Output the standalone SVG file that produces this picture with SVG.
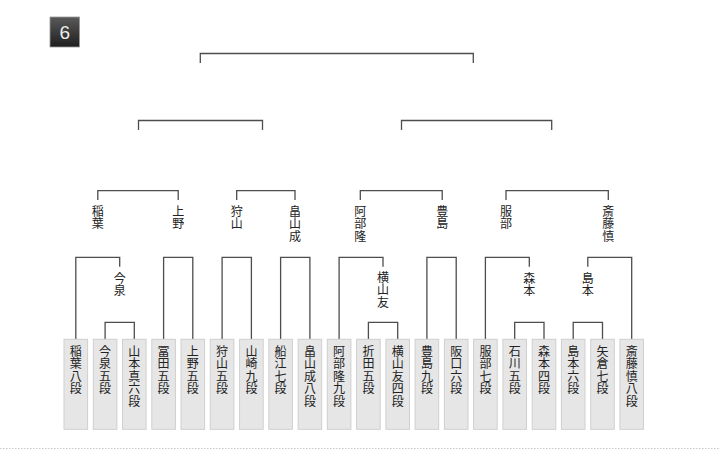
<svg xmlns="http://www.w3.org/2000/svg" width="720" height="462" viewBox="0 0 720 462">
<style>
.bg{fill:#ffffff}
.ln{fill:none;stroke:#4d4d4d;stroke-width:1.3}
.box{fill:#e6e6e6;stroke:#cfcfcf;stroke-width:1}
.t{font-family:"Noto Sans CJK JP","Noto Sans CJK SC",sans-serif;font-size:12px;fill:#222222;text-anchor:middle}
.num{font-family:"Liberation Sans","DejaVu Sans",sans-serif;font-size:19px;fill:#eeeeee;text-anchor:middle}
.dot{stroke:#c8c8c8;stroke-width:1;stroke-dasharray:1.5 1.5}
</style>
<defs>
<linearGradient id="badge" x1="0" y1="0" x2="0" y2="1">
<stop offset="0" stop-color="#5a5a5a"/>
<stop offset="1" stop-color="#1e1e1e"/>
</linearGradient>
</defs>
<rect class="bg" x="0" y="0" width="720" height="462"/>
<g id="badge6">
<rect x="50" y="17" width="29.5" height="30" fill="url(#badge)" stroke="#999" stroke-width="0.8"/>
<text class="num" x="64.8" y="39.3">6</text>
</g>
<g id="connectors">
<path class="ln" d="M200.3 63 V53.5 H473.3 V63"/>
<path class="ln" d="M138.5 130 V120.5 H262.5 V130"/>
<path class="ln" d="M401.5 130 V120.5 H551.7 V130"/>
<path class="ln" d="M97.8 200 V190.7 H178.2 V200"/>
<path class="ln" d="M236.7 200 V190.7 H295 V200"/>
<path class="ln" d="M360.3 200 V190.7 H442.2 V200"/>
<path class="ln" d="M506 200 V190.7 H608.3 V200"/>
<path class="ln" d="M75.8 339 V257.3 H119.7 V266.7"/>
<path class="ln" d="M105.1 339 V322.3 H134.3 V339"/>
<path class="ln" d="M163.6 339 V257.3 H192.8 V339"/>
<path class="ln" d="M222.1 339 V257.3 H251.4 V339"/>
<path class="ln" d="M280.6 339 V257.3 H309.9 V339"/>
<path class="ln" d="M339.1 339 V257.3 H383 V266.7"/>
<path class="ln" d="M368.4 339 V322.3 H397.7 V339"/>
<path class="ln" d="M426.9 339 V257.3 H456.2 V339"/>
<path class="ln" d="M485.4 339 V257.3 H529.3 V266.7"/>
<path class="ln" d="M514.7 339 V322.3 H544 V339"/>
<path class="ln" d="M573.2 339 V322.3 H602.5 V339"/>
<path class="ln" d="M631.7 339 V257.3 H587.8 V266.7"/>
</g>
<g id="r3-inaba"><text class="t" x="97.8 97.8" y="215.8 228.3">稲葉</text></g>
<g id="r3-ueno"><text class="t" x="178.2 178.2" y="215.8 228.3">上野</text></g>
<g id="r3-kariyama"><text class="t" x="236.7 236.7" y="215.8 228.3">狩山</text></g>
<g id="r3-hatakeyama"><text class="t" x="295 295 295" y="215.8 228.3 240.8">畠山成</text></g>
<g id="r3-abe"><text class="t" x="360.3 360.3 360.3" y="215.8 228.3 240.8">阿部隆</text></g>
<g id="r3-toyoshima"><text class="t" x="442.2 442.2" y="215.8 228.3">豊島</text></g>
<g id="r3-hattori"><text class="t" x="506 506" y="215.8 228.3">服部</text></g>
<g id="r3-saito"><text class="t" x="608.3 608.3 608.3" y="215.8 228.3 240.8">斎藤慎</text></g>
<g id="r4-imaizumi"><text class="t" x="119.7 119.7" y="282.8 295.3">今泉</text></g>
<g id="r4-yokoyama"><text class="t" x="383 383 383" y="281.8 294.3 306.8">横山友</text></g>
<g id="r4-morimoto"><text class="t" x="529.3 529.3" y="282.8 295.3">森本</text></g>
<g id="r4-shimamoto"><text class="t" x="587.8 587.8" y="282.8 295.3">島本</text></g>
<g id="p0"><rect class="box" x="64" y="339.3" width="23.6" height="90"/><text class="t" x="75.8 75.8 75.8 75.8" y="355.8 368.3 380.8 393.3">稲葉八段</text></g>
<g id="p1"><rect class="box" x="93.3" y="339.3" width="23.6" height="90"/><text class="t" x="105.1 105.1 105.1 105.1" y="355.8 368.3 380.8 393.3">今泉五段</text></g>
<g id="p2"><rect class="box" x="122.5" y="339.3" width="23.6" height="90"/><text class="t" x="134.3 134.3 134.3 134.3 134.3" y="355.8 368.3 380.8 393.3 405.8">山本真六段</text></g>
<g id="p3"><rect class="box" x="151.8" y="339.3" width="23.6" height="90"/><text class="t" x="163.6 163.6 163.6 163.6" y="355.8 368.3 380.8 393.3">冨田五段</text></g>
<g id="p4"><rect class="box" x="181" y="339.3" width="23.6" height="90"/><text class="t" x="192.8 192.8 192.8 192.8" y="355.8 368.3 380.8 393.3">上野五段</text></g>
<g id="p5"><rect class="box" x="210.3" y="339.3" width="23.6" height="90"/><text class="t" x="222.1 222.1 222.1 222.1" y="355.8 368.3 380.8 393.3">狩山五段</text></g>
<g id="p6"><rect class="box" x="239.6" y="339.3" width="23.6" height="90"/><text class="t" x="251.4 251.4 251.4 251.4" y="355.8 368.3 380.8 393.3">山崎九段</text></g>
<g id="p7"><rect class="box" x="268.8" y="339.3" width="23.6" height="90"/><text class="t" x="280.6 280.6 280.6 280.6" y="355.8 368.3 380.8 393.3">船江七段</text></g>
<g id="p8"><rect class="box" x="298.1" y="339.3" width="23.6" height="90"/><text class="t" x="309.9 309.9 309.9 309.9 309.9" y="355.8 368.3 380.8 393.3 405.8">畠山成八段</text></g>
<g id="p9"><rect class="box" x="327.3" y="339.3" width="23.6" height="90"/><text class="t" x="339.1 339.1 339.1 339.1 339.1" y="355.8 368.3 380.8 393.3 405.8">阿部隆九段</text></g>
<g id="p10"><rect class="box" x="356.6" y="339.3" width="23.6" height="90"/><text class="t" x="368.4 368.4 368.4 368.4" y="355.8 368.3 380.8 393.3">折田五段</text></g>
<g id="p11"><rect class="box" x="385.9" y="339.3" width="23.6" height="90"/><text class="t" x="397.7 397.7 397.7 397.7 397.7" y="355.8 368.3 380.8 393.3 405.8">横山友四段</text></g>
<g id="p12"><rect class="box" x="415.1" y="339.3" width="23.6" height="90"/><text class="t" x="426.9 426.9 426.9 426.9" y="355.8 368.3 380.8 393.3">豊島九段</text></g>
<g id="p13"><rect class="box" x="444.4" y="339.3" width="23.6" height="90"/><text class="t" x="456.2 456.2 456.2 456.2" y="355.8 368.3 380.8 393.3">阪口六段</text></g>
<g id="p14"><rect class="box" x="473.6" y="339.3" width="23.6" height="90"/><text class="t" x="485.4 485.4 485.4 485.4" y="355.8 368.3 380.8 393.3">服部七段</text></g>
<g id="p15"><rect class="box" x="502.9" y="339.3" width="23.6" height="90"/><text class="t" x="514.7 514.7 514.7 514.7" y="355.8 368.3 380.8 393.3">石川五段</text></g>
<g id="p16"><rect class="box" x="532.2" y="339.3" width="23.6" height="90"/><text class="t" x="544 544 544 544" y="355.8 368.3 380.8 393.3">森本四段</text></g>
<g id="p17"><rect class="box" x="561.4" y="339.3" width="23.6" height="90"/><text class="t" x="573.2 573.2 573.2 573.2" y="355.8 368.3 380.8 393.3">島本六段</text></g>
<g id="p18"><rect class="box" x="590.7" y="339.3" width="23.6" height="90"/><text class="t" x="602.5 602.5 602.5 602.5" y="355.8 368.3 380.8 393.3">矢倉七段</text></g>
<g id="p19"><rect class="box" x="619.9" y="339.3" width="23.6" height="90"/><text class="t" x="631.7 631.7 631.7 631.7 631.7" y="355.8 368.3 380.8 393.3 405.8">斎藤慎八段</text></g>
<line class="dot" x1="0" y1="448.5" x2="720" y2="448.5"/>
</svg>
